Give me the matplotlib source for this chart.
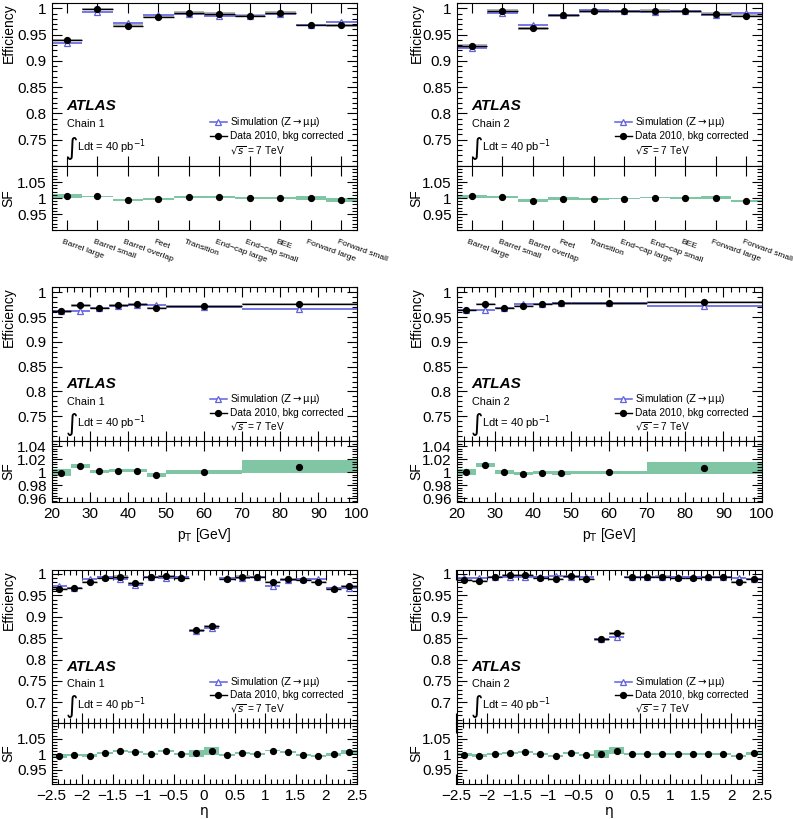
import numpy as np
import matplotlib
matplotlib.use("Agg")
import matplotlib.pyplot as plt
import matplotlib.transforms as mtransforms
from matplotlib.ticker import MultipleLocator, FixedLocator, FuncFormatter, NullLocator

plt.rcParams['font.family'] = ['Liberation Sans', 'DejaVu Sans']
plt.rcParams['mathtext.fontset'] = 'dejavusans'

# ---------------- data ----------------
cat_labels = ["Barrel large", "Barrel small", "Barrel overlap", "Feet", "Transition",
              "End\u2212cap large", "End\u2212cap small", "BEE", "Forward large", "Forward small"]
cat_edges = np.arange(0, 11)

cat_mc_c1 = [0.933, 0.992, 0.9726, 0.9866, 0.9885, 0.986, 0.9847, 0.989, 0.9676, 0.973]
cat_data_c1 = [0.9396, 0.9987, 0.967, 0.9835, 0.9917, 0.9898, 0.986, 0.9917, 0.968, 0.9676]
cat_sf_c1 = [1.006, 1.005, 0.994, 0.997, 1.002, 1.003, 1.001, 1.001, 1.001, 0.994]
cat_sferr_c1 = [0.005, 0.002, 0.004, 0.004, 0.003, 0.003, 0.003, 0.003, 0.006, 0.005]

cat_mc_c2 = [0.9237, 0.9905, 0.9688, 0.9873, 0.9968, 0.9943, 0.9936, 0.9943, 0.988, 0.9917]
cat_data_c2 = [0.9288, 0.9955, 0.9618, 0.9866, 0.9943, 0.9943, 0.9955, 0.9943, 0.9898, 0.986]
cat_sf_c2 = [1.005, 1.003, 0.992, 0.998, 0.997, 0.998, 1.001, 0.999, 1.001, 0.992]
cat_sferr_c2 = [0.005, 0.003, 0.004, 0.004, 0.002, 0.002, 0.002, 0.003, 0.004, 0.003]

pt_edges = [20, 25, 30, 35, 40, 45, 50, 70, 100]
pt_mc_c1 = [0.962, 0.963, 0.9677, 0.9724, 0.9738, 0.9751, 0.971, 0.967]
pt_data_c1 = [0.9617, 0.9738, 0.969, 0.9745, 0.9771, 0.969, 0.9718, 0.9771]
pt_sf_c1 = [0.999, 1.0097, 1.0015, 1.002, 1.0025, 0.9954, 1.000, 1.0087]
pt_sferr_c1 = [0.0053, 0.0036, 0.0025, 0.0025, 0.0025, 0.003, 0.0035, 0.0095]

pt_mc_c2 = [0.965, 0.9644, 0.9677, 0.9758, 0.977, 0.979, 0.9778, 0.9724]
pt_data_c2 = [0.965, 0.9765, 0.969, 0.973, 0.9771, 0.9778, 0.9778, 0.9805]
pt_sf_c2 = [1.000, 1.0107, 1.000, 0.9975, 0.999, 0.9985, 0.9995, 1.0066]
pt_sferr_c2 = [0.005, 0.0033, 0.003, 0.0023, 0.0025, 0.0028, 0.0028, 0.0087]
pt_dataerr = [0.002, 0.003, 0.002, 0.002, 0.002, 0.002, 0.002, 0.006]

eta_edges = np.linspace(-2.5, 2.5, 21)
eta_mc_c1 = [0.972, 0.968, 0.988, 0.992, 0.9875, 0.974, 0.9938, 0.9906, 0.992, 0.8675,
             0.873, 0.9906, 0.990, 0.993, 0.9727, 0.985, 0.988, 0.988, 0.9665, 0.966]
eta_data_c1 = [0.9641, 0.9665, 0.982, 0.9914, 0.9938, 0.978, 0.993, 0.996, 0.9914, 0.869,
               0.879, 0.989, 0.9938, 0.992, 0.981, 0.989, 0.9867, 0.980, 0.9657, 0.971]
eta_sf_c1 = [0.9946, 0.998, 0.9957, 1.003, 1.0097, 1.0075, 1.000, 1.0097, 1.002, 1.003,
             1.0097, 0.999, 1.005, 1.001, 1.012, 1.0065, 0.998, 0.9946, 1.000, 1.0075]
eta_sferr_c1 = [0.007, 0.004, 0.004, 0.003, 0.003, 0.003, 0.003, 0.003, 0.003, 0.012,
                0.012, 0.003, 0.003, 0.003, 0.003, 0.003, 0.003, 0.004, 0.005, 0.0075]

eta_mc_c2 = [0.990, 0.990, 0.993, 0.992, 0.992, 0.992, 0.996, 0.992, 0.992, 0.847,
             0.8527, 0.993, 0.992, 0.993, 0.992, 0.992, 0.992, 0.993, 0.9906, 0.988]
eta_data_c2 = [0.986, 0.9836, 0.992, 0.9969, 0.9977, 0.9914, 0.989, 0.9953, 0.989, 0.847,
               0.861, 0.992, 0.992, 0.9938, 0.9914, 0.9914, 0.993, 0.993, 0.982, 0.988]
eta_sf_c2 = [0.998, 0.9957, 1.002, 1.005, 1.0065, 1.000, 0.9957, 1.005, 0.998, 1.001,
             1.012, 1.002, 1.001, 1.001, 1.000, 1.000, 1.000, 1.002, 0.9946, 1.003]
eta_sferr_c2 = [0.005, 0.004, 0.003, 0.003, 0.003, 0.003, 0.003, 0.003, 0.003, 0.012,
                0.010, 0.003, 0.003, 0.003, 0.003, 0.003, 0.003, 0.003, 0.004, 0.005]

eff_ticks_top = [0.75, 0.8, 0.85, 0.9, 0.95, 1.0]
eff_ticks_bot = [0.7, 0.75, 0.8, 0.85, 0.9, 0.95, 1.0]
sf_ticks_wide = [0.95, 1.0, 1.05]
sf_ticks_pt = [0.96, 0.98, 1.0, 1.02, 1.04]

# ---------------- style ----------------
BLUE = '#6060e0'
GREEN = '#80c6a5'
W, H = 793, 819

fig = plt.figure(figsize=(W / 100, H / 100), dpi=100)


def rect(x0, x1, yt, yb):
    return [x0 / W, 1 - yb / H, (x1 - x0) / W, (yb - yt) / H]


def fmt(v, p):
    return ('%.3f' % v).rstrip('0').rstrip('.')


def style_axis(ax, yticks, ymin):
    ax.tick_params(which='both', direction='in', top=True, right=True, labelsize=11)
    ax.tick_params(which='major', length=7, width=0.8)
    ax.tick_params(which='minor', length=3.5, width=0.8)
    ax.yaxis.set_major_locator(FixedLocator(yticks))
    ax.yaxis.set_minor_locator(MultipleLocator(ymin))
    ax.yaxis.set_major_formatter(FuncFormatter(fmt))
    for s in ax.spines.values():
        s.set_linewidth(0.8)


def draw_eff(ax, edges, mc, data, derr, chain, labx):
    edges = np.asarray(edges, float)
    c = 0.5 * (edges[:-1] + edges[1:])
    hw = 0.5 * (edges[1:] - edges[:-1])
    data = np.asarray(data)
    ax.bar(c, 0.005, bottom=data - 0.0025, width=2 * hw, color='#b4b4b4', lw=0, zorder=1)
    ax.hlines(mc, edges[:-1], edges[1:], color=BLUE, lw=1.2, zorder=2)
    ax.plot(c, mc, ls='none', marker='^', mfc='white', mec=BLUE, ms=4.5, mew=0.9, zorder=3)
    ax.errorbar(c, data, xerr=hw, yerr=derr, fmt='o', color='black', ms=4.2, lw=1.0,
                capsize=0, zorder=4)
    t = ax.transAxes
    ax.text(0.05, 0.367, 'ATLAS', transform=t, fontsize=11, fontweight='bold',
            fontstyle='italic', va='center', ha='left')
    ax.text(0.05, 0.256, 'Chain %d' % chain, transform=t, fontsize=7.8, va='center')
    ax.text(0.045, 0.112, '\u222b', transform=t, fontsize=17, va='center',
            family='DejaVu Sans')
    ax.text(0.082, 0.118, r'Ldt = 40 pb$^{-1}$', transform=t, fontsize=8, va='center')
    ax.plot([0.52, 0.575], [0.27, 0.27], transform=t, color=BLUE, lw=1.1)
    ax.plot([0.5475], [0.27], transform=t, marker='^', mfc='white', mec=BLUE, ms=4.5, mew=0.9)
    ax.text(0.585, 0.27, r'Simulation ($\mathrm{Z\rightarrow\mu\mu}$)', transform=t,
            fontsize=7.3, va='center')
    ax.plot([0.52, 0.575], [0.182, 0.182], transform=t, color='black', lw=1.0)
    ax.plot([0.5475], [0.182], transform=t, marker='o', color='black', ms=4.2)
    ax.text(0.585, 0.182, 'Data 2010, bkg corrected', transform=t, fontsize=7.3, va='center')
    ax.text(0.585, 0.095, r'$\sqrt{s}$ = 7 TeV', transform=t, fontsize=7.3, va='center')
    ax.set_ylabel('Efficiency', fontsize=10, loc='top')
    ax.yaxis.set_label_coords(labx, 1.0)


def draw_sf(ax, edges, sf, sferr, labx):
    edges = np.asarray(edges, float)
    c = 0.5 * (edges[:-1] + edges[1:])
    w = edges[1:] - edges[:-1]
    sf = np.asarray(sf)
    sferr = np.asarray(sferr)
    ax.bar(c, 2 * sferr, bottom=sf - sferr, width=w, color=GREEN, lw=0, zorder=1)
    ax.plot(c, sf, 'o', color='black', ms=4.2, zorder=3)
    ax.set_ylabel('SF', fontsize=10)
    ax.yaxis.set_label_coords(labx, 0.5)


xs = [(51.5, 356.5), (456.5, 761.5)]
labxs = [-0.118, -0.108]
rows = [(3, 166, 230), (287, 441, 502), (570, 723, 784)]

panels = [
    (cat_edges, [cat_mc_c1, cat_mc_c2], [cat_data_c1, cat_data_c2],
     [cat_sf_c1, cat_sf_c2], [cat_sferr_c1, cat_sferr_c2], [0.002] * 10),
    (pt_edges, [pt_mc_c1, pt_mc_c2], [pt_data_c1, pt_data_c2],
     [pt_sf_c1, pt_sf_c2], [pt_sferr_c1, pt_sferr_c2], pt_dataerr),
    (eta_edges, [eta_mc_c1, eta_mc_c2], [eta_data_c1, eta_data_c2],
     [eta_sf_c1, eta_sf_c2], [eta_sferr_c1, eta_sferr_c2], [0.002] * 20),
]

shift = mtransforms.ScaledTranslation(-3 / 100, 0, fig.dpi_scale_trans)

for r, (yt, ym, yb) in enumerate(rows):
    edges, mcs, datas, sfs, sferrs, derr = panels[r]
    for ch in range(2):
        x0, x1 = xs[ch]
        ae = fig.add_axes(rect(x0, x1, yt, ym))
        asf = fig.add_axes(rect(x0, x1, ym, yb), sharex=ae)
        draw_eff(ae, edges, mcs[ch], datas[ch], derr, ch + 1, labxs[ch])
        draw_sf(asf, edges, sfs[ch], sferrs[ch], labxs[ch])
        if r == 0:
            ae.set_ylim(0.70, 1.01)
            asf.set_ylim(0.90, 1.10)
            style_axis(ae, eff_ticks_top, 0.01)
            style_axis(asf, sf_ticks_wide, 0.01)
            ae.set_xlim(0, 10)
            centers = 0.5 * (cat_edges[:-1] + cat_edges[1:])
            ae.xaxis.set_major_locator(FixedLocator(centers))
            ae.xaxis.set_minor_locator(NullLocator())
            asf.set_xticks(centers)
            asf.set_xticklabels(cat_labels, rotation=-20, ha='left', va='top',
                                rotation_mode='anchor', fontsize=6.0)
            asf.tick_params(axis='x', pad=6)
            for lbl in asf.get_xticklabels():
                lbl.set_transform(lbl.get_transform() + shift)
        elif r == 1:
            ae.set_ylim(0.70, 1.011)
            asf.set_ylim(0.954, 1.048)
            style_axis(ae, eff_ticks_top, 0.01)
            style_axis(asf, sf_ticks_pt, 0.004)
            ae.set_xlim(20, 100)
            ae.xaxis.set_major_locator(MultipleLocator(10))
            ae.xaxis.set_minor_locator(MultipleLocator(2))
            asf.set_xlabel(r'p$_{\mathrm{T}}$ [GeV]', fontsize=10)
        else:
            ae.set_ylim(0.652, 1.009)
            asf.set_ylim(0.905, 1.10)
            style_axis(ae, eff_ticks_bot, 0.01)
            style_axis(asf, sf_ticks_wide, 0.01)
            ae.set_xlim(-2.5, 2.5)
            ae.xaxis.set_major_locator(MultipleLocator(0.5))
            ae.xaxis.set_minor_locator(MultipleLocator(0.1))
            asf.xaxis.set_major_formatter(
                FuncFormatter(lambda v, p: ('%g' % v).replace('-', '\u2212')))
            asf.set_xlabel('\u03b7', fontsize=10, family='DejaVu Sans', labelpad=1)
        ae.tick_params(labelbottom=False)

fig.savefig('out.png', dpi=100)
